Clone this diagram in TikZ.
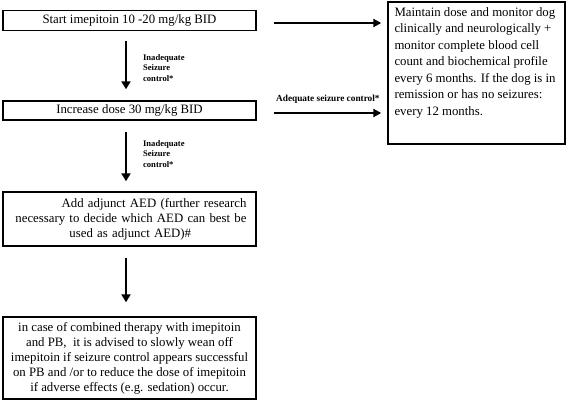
\documentclass[tikz,border=0pt]{standalone}
\usepackage{fontspec}
\setmainfont{Liberation Serif}
\usetikzlibrary{arrows.meta}
\begin{document}
\begin{tikzpicture}[x=1pt,y=-1pt,
  box/.style={draw, line width=1.4pt, inner sep=0pt, minimum width=253pt, font=\fontsize{12.8}{15}\selectfont},
  arr/.style={line width=2.2pt, -{Triangle[length=8pt,width=9pt]}},
  harr/.style={line width=2pt, -{Triangle[length=8pt,width=8pt]}},
  lbl/.style={font=\bfseries\fontsize{8.6}{10.5}\selectfont, align=left, inner sep=0pt}]
\useasboundingbox (0,0) rectangle (567,404);
\node[box, minimum height=20pt] (b1) at (129.5,20.5) {Start imepitoin 10 -20 mg/kg BID};
\node[box, minimum height=19pt] (b2) at (129.5,110.5) {Increase dose 30 mg/kg BID};
\node[box, minimum height=54pt, text width=234pt, align=left] (b3) at (129.5,219)
  {\hfill Add adjunct AED (further research\\
   \hfill necessary to decide which AED can best be\\
   \hspace*{57pt}used as adjunct AED)\#};
\node[box, minimum height=82pt, align=center] (b4) at (129.5,358)
  {in case of combined therapy with imepitoin\\
   and PB,\ \ it is advised to slowly wean off\\
   imepitoin if seizure control appears successful\\
   on PB and /or to reduce the dose of imepitoin\\
   if adverse effects (e.g. sedation) occur.};
\node[draw, line width=1.4pt, minimum width=177pt, minimum height=142pt, inner sep=0pt,
  label={[anchor=north west, align=left, inner sep=0pt, font=\fontsize{12.8}{16.5}\selectfont, xshift=7pt, yshift=-6pt]north west:%
  Maintain dose and monitor dog\\
  clinically and neurologically +\\
  monitor complete blood cell\\
  count and biochemical profile\\
  every 6 months. If the dog is in\\
  remission or has no seizures:\\
  every 12 months.}] (mon) at (476.5,73) {};
\draw[arr, shorten <=10pt, shorten >=11pt] ([xshift=-3.5pt]b1.south) -- ([xshift=-3.5pt]b2.north)
  node[lbl, pos=0.53, anchor=west, xshift=16pt] {Inadequate\\Seizure\\control*};
\draw[arr, shorten <=11pt, shorten >=10pt] ([xshift=-3.5pt]b2.south) -- ([xshift=-3.5pt]b3.north)
  node[lbl, pos=0.47, anchor=west, xshift=16pt] {Inadequate\\Seizure\\control*};
\draw[arr, shorten <=11pt, shorten >=14pt] ([xshift=-3.5pt]b3.south) -- ([xshift=-3.5pt]b4.north);
\draw[harr, shorten <=17pt, shorten >=6pt] ([yshift=-2.5pt]b1.east) -- ([yshift=-2.5pt]b1.east -| mon.west);
\draw[harr, shorten <=17pt, shorten >=6pt] ([yshift=-2.5pt]b2.east) -- ([yshift=-2.5pt]b2.east -| mon.west)
  node[pos=0.545, anchor=south, yshift=9pt, inner sep=0pt, font=\bfseries\fontsize{9.3}{10}\selectfont] {Adequate seizure control*};
\end{tikzpicture}
\end{document}
